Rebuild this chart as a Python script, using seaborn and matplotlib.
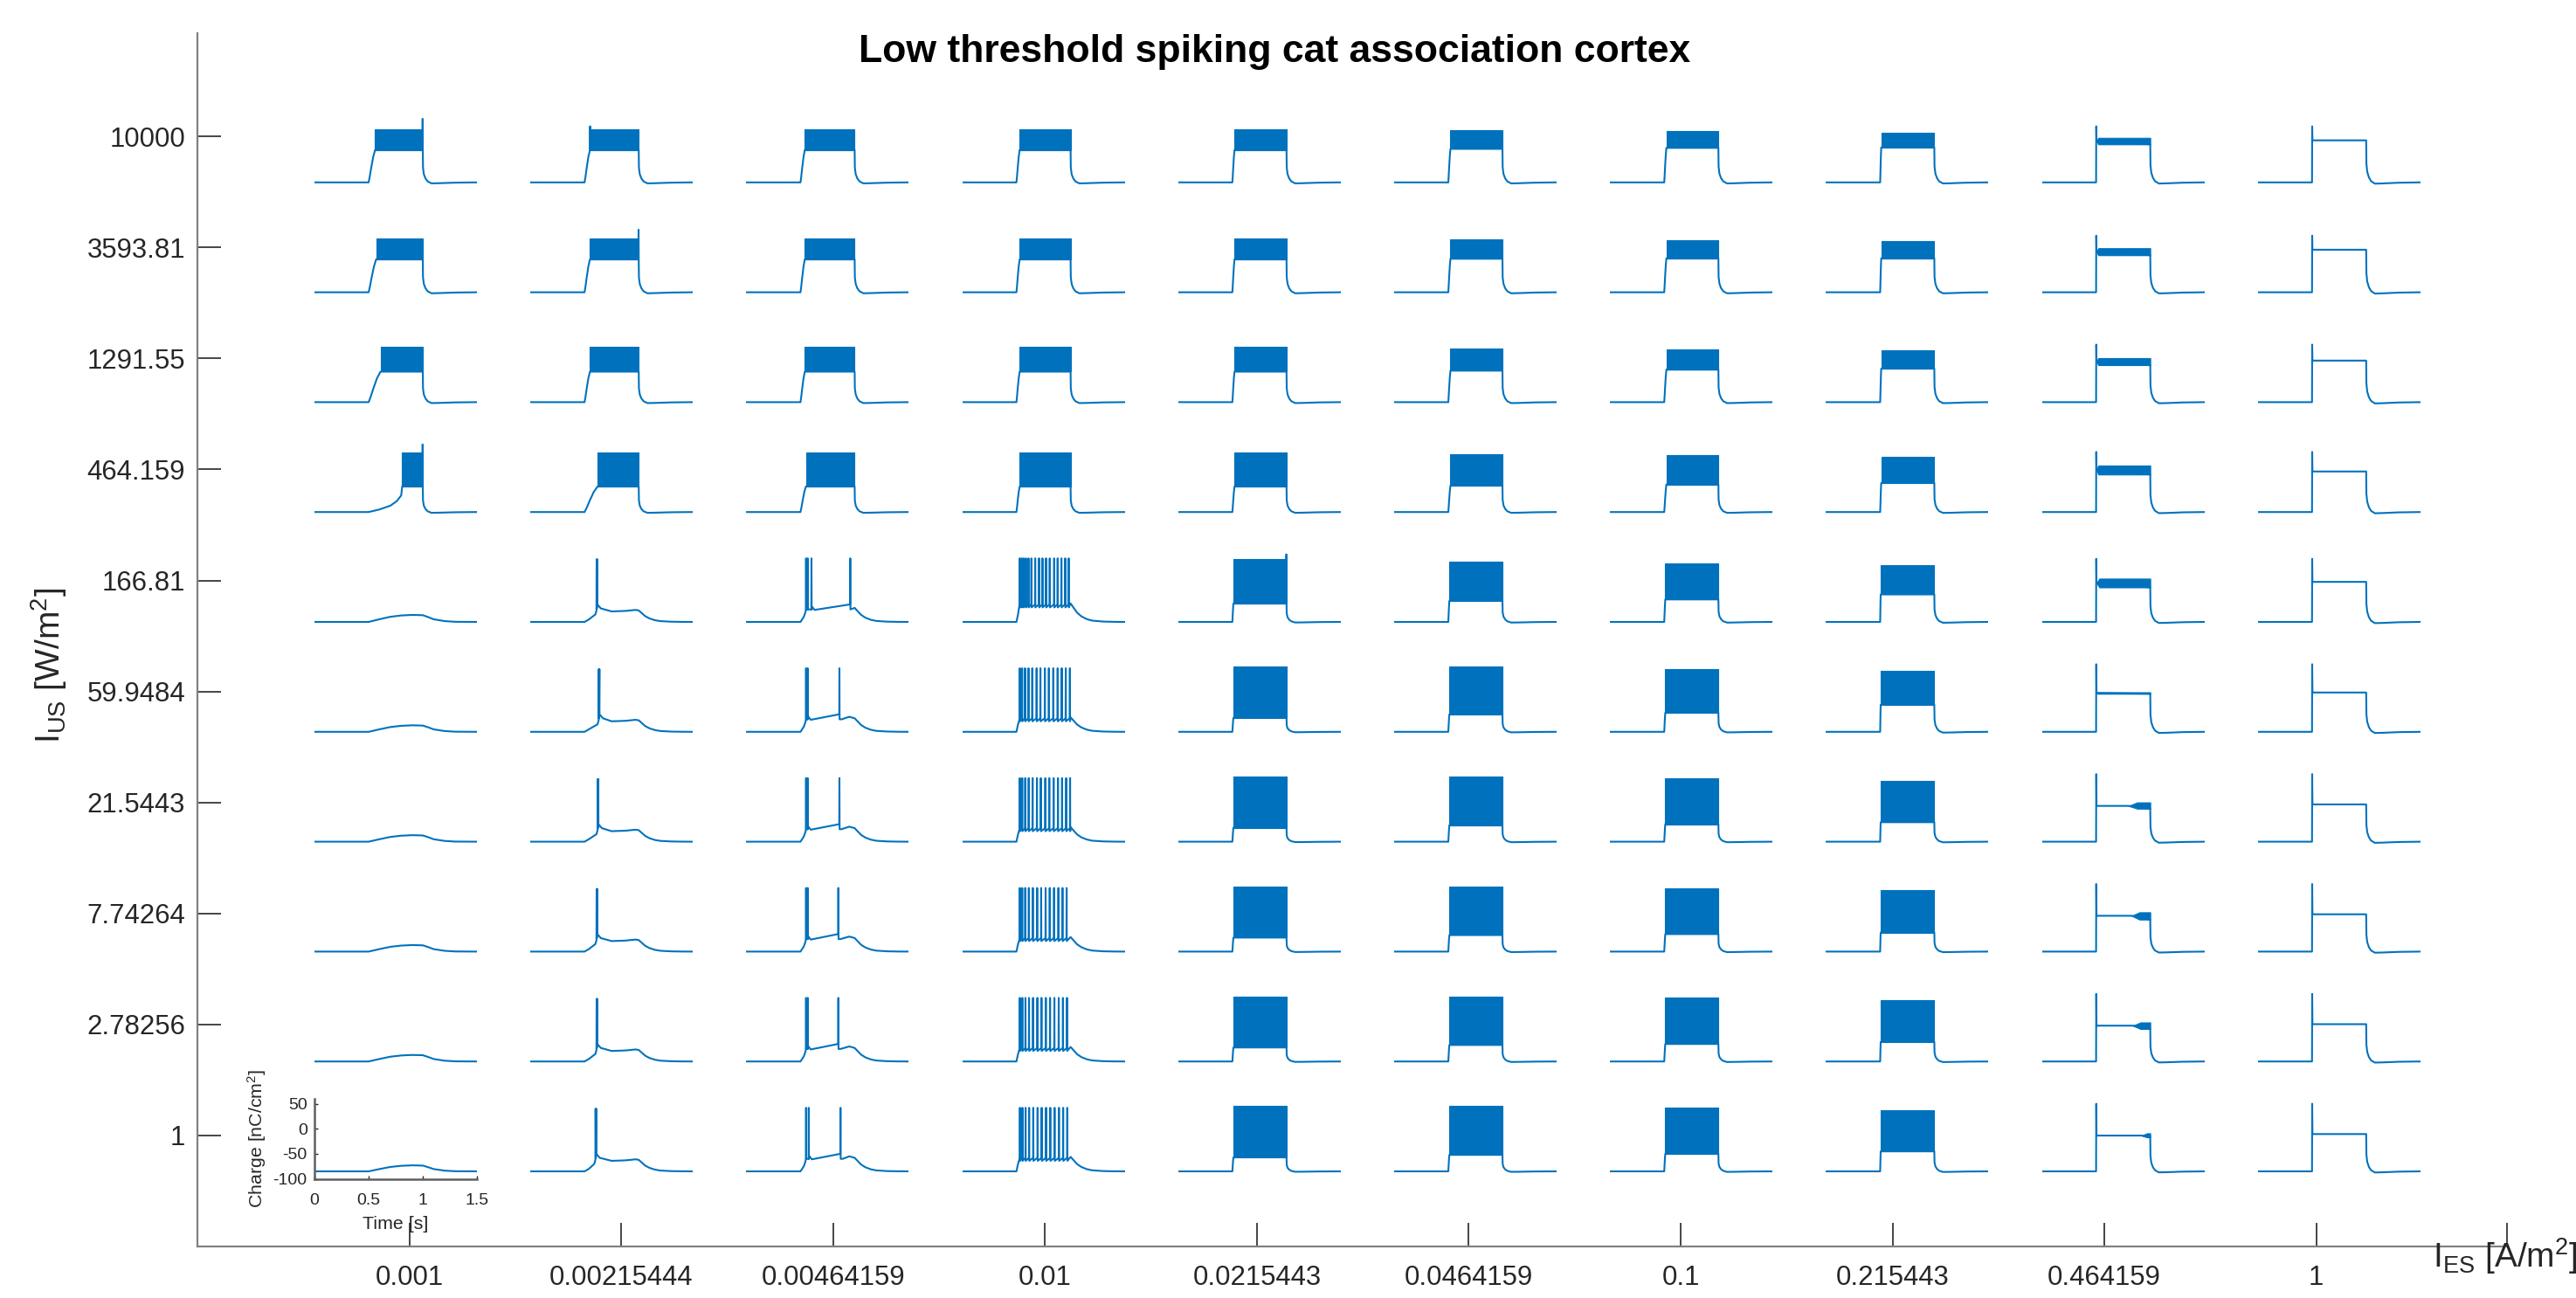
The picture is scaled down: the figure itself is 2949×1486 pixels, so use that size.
import numpy as np
import pandas as pd
import matplotlib
matplotlib.use("Agg")
import matplotlib.pyplot as plt
import seaborn as sns

sns.set_theme(style="white")
plt.rcParams['font.family'] = ['Liberation Sans', 'DejaVu Sans']
plt.rcParams['mathtext.fontset'] = 'custom'
plt.rcParams['mathtext.rm'] = 'Liberation Sans'
plt.rcParams['mathtext.it'] = 'Liberation Sans:italic'
plt.rcParams['mathtext.bf'] = 'Liberation Sans:bold'

# ---------------- data ----------------
TITLE = "Low threshold spiking cat association cortex"
I_ES_LABELS = ["0.001", "0.00215444", "0.00464159", "0.01", "0.0215443",
               "0.0464159", "0.1", "0.215443", "0.464159", "1"]
# rows from top (10000) to bottom (1)
I_US_LABELS = ["10000", "3593.81", "1291.55", "464.159", "166.81",
               "59.9484", "21.5443", "7.74264", "2.78256", "1"]

REST = -85.0          # resting charge [nC/cm2]
T_ON, T_OFF = 0.5, 1.0
nan = np.nan

KIND = [
    ["band", "band", "band", "band", "band", "band", "band", "band", "onset", "plateau"],
    ["band", "band", "band", "band", "band", "band", "band", "band", "onset", "plateau"],
    ["band", "band", "band", "band", "band", "band", "band", "band", "onset", "plateau"],
    ["slowband", "band", "band", "band", "band", "band", "band", "band", "onset", "plateau"],
    ["bump", "single", "burst", "train", "band", "band", "band", "band", "onset", "plateau"],
    ["bump", "single", "burst", "train", "band", "band", "band", "band", "onset", "plateau"],
    ["bump", "single", "burst", "train", "band", "band", "band", "band", "onset", "plateau"],
    ["bump", "single", "burst", "train", "band", "band", "band", "band", "onset", "plateau"],
    ["bump", "single", "burst", "train", "band", "band", "band", "band", "onset", "plateau"],
    ["bump", "single", "burst", "train", "band", "band", "band", "band", "onset", "plateau"],
]

BAND_HI = [
    [21, 21, 21, 21, 21, 19, 17, 14.5, 4, nan],
    [23, 23, 23, 23, 23, 21, 19, 17, 3, nan],
    [25, 25, 25, 25, 25, 23, 21, 18, 3, nan],
    [34, 34, 34, 34, 34, 31, 28, 25, 8, nan],
    [nan, nan, nan, nan, 40, 35, 32, 28, 1.5, nan],
    [nan, nan, nan, nan, 45, 45, 40, 36, -6, nan],
    [nan, nan, nan, nan, 45, 45, 42, 36, -6.5, nan],
    [nan, nan, nan, nan, 45, 45, 42, 37, -6.5, nan],
    [nan, nan, nan, nan, 45, 45, 42, 37, -7, nan],
    [nan, nan, nan, nan, 45, 45, 42, 37, -9, nan],
]
BAND_LO = [
    [-20, -20, -20, -20, -20, -18, -16, -15, -9, nan],
    [-19, -19, -19, -19, -19, -18, -17, -17, -11, nan],
    [-24, -24, -24, -24, -24, -22, -20, -18, -11, nan],
    [-34, -34, -34, -34, -34, -32, -30, -27, -10, nan],
    [nan, nan, nan, nan, -48, -43, -40, -30, -16, nan],
    [nan, nan, nan, nan, -57, -50, -47, -31, -9, nan],
    [nan, nan, nan, nan, -57, -52, -50, -46, -19, nan],
    [nan, nan, nan, nan, -57, -52, -50, -47, -21, nan],
    [nan, nan, nan, nan, -57, -52, -50, -46, -20, nan],
    [nan, nan, nan, nan, -57, -52, -50, -45, -17, nan],
]
BAND_T0 = [
    [0.56, 0.55, 0.54, 0.53, 0.52, 0.52, 0.52, 0.51, 0.505, nan],
    [0.57, 0.55, 0.54, 0.53, 0.52, 0.52, 0.52, 0.51, 0.505, nan],
    [0.61, 0.55, 0.54, 0.53, 0.52, 0.52, 0.52, 0.51, 0.505, nan],
    [0.81, 0.62, 0.55, 0.53, 0.52, 0.52, 0.52, 0.51, 0.505, nan],
    [nan, nan, nan, nan, 0.51, 0.51, 0.51, 0.505, 0.505, nan],
    [nan, nan, nan, nan, 0.51, 0.51, 0.51, 0.505, 0.505, nan],
    [nan, nan, nan, nan, 0.51, 0.51, 0.51, 0.505, 0.80, nan],
    [nan, nan, nan, nan, 0.51, 0.51, 0.51, 0.505, 0.83, nan],
    [nan, nan, nan, nan, 0.51, 0.51, 0.51, 0.505, 0.84, nan],
    [nan, nan, nan, nan, 0.51, 0.51, 0.51, 0.505, 0.92, nan],
]
# spikes poking out of a band at its start or end
EDGE_SPIKE = {(0, 0): ("end", 42), (0, 1): ("start", 27), (1, 1): ("end", 40),
              (3, 0): ("end", 50), (4, 4): ("end", 50)}

# column 0.464159: onset spike, then band that widens
ONSET_PEAK = [27, 28, 30, 35, 41, 50, 50, 50, 50, 50]
ONSET_LINE = [nan, nan, nan, nan, nan, nan, -13.5, -13.5, -13.5, -13.5]
ONSET_FULL_T = [0.52, 0.52, 0.52, 0.52, 0.53, 0.515, 0.88, 0.90, 0.91, 0.97]
# column 1: onset spike then a flat plateau
PLATEAU = [-1, 0, -2, -4, -5, -6.5, -10.5, -10.5, -10.5, -10.5]

# column 0.001, sub-threshold bump peak (rows 166.81 .. 1)
BUMP_PEAK = {4: -71, 5: -72, 6: -72, 7: -72, 8: -72, 9: -73}
BUMP_T = [0.0, 0.5, 0.6, 0.7, 0.8, 0.9, 1.0, 1.05, 1.1, 1.2, 1.3, 1.5]
BUMP_F = [0.0, 0.0, 0.38, 0.73, 0.92, 1.0, 0.96, 0.69, 0.38, 0.12, 0.02, 0.0]

# column 0.00215444: a single (doublet) spike
SINGLE_SPIKE_T = {4: 0.61, 5: 0.63, 6: 0.62, 7: 0.61, 8: 0.61, 9: 0.60}
SINGLE_AFTER_DT = [0.008, 0.04]
SINGLE_AFTER_Q = [-50, -58]
SINGLE_LATE_T = [0.75, 0.88, 0.97, 1.0]
SINGLE_LATE_Q = [-64, -63, -61, -62]

# column 0.00464159: early burst + one late spike (last entry)
BURST_SPIKES = {4: [0.55, 0.565, 0.60, 0.96], 5: [0.55, 0.565, 0.86],
                6: [0.55, 0.565, 0.86], 7: [0.55, 0.565, 0.85],
                8: [0.55, 0.565, 0.85], 9: [0.55, 0.575, 0.87]}

# column 0.01: regular spike trains
TRAIN_SPIKES = {
    4: [0.530, 0.546, 0.565, 0.586, 0.610, 0.637, 0.672, 0.707, 0.739,
        0.772, 0.806, 0.847, 0.879, 0.914, 0.949, 0.981],
    5: [0.530, 0.551, 0.578, 0.610, 0.645, 0.685, 0.720, 0.761, 0.798,
        0.839, 0.879, 0.917, 0.954, 0.992],
    6: [0.530, 0.552, 0.580, 0.612, 0.648, 0.688, 0.724, 0.765, 0.802,
        0.842, 0.882, 0.920, 0.958, 0.994],
    7: [0.530, 0.552, 0.580, 0.613, 0.650, 0.690, 0.727, 0.768, 0.806,
        0.846, 0.886, 0.924, 0.962],
    8: [0.530, 0.553, 0.582, 0.615, 0.652, 0.692, 0.730, 0.770, 0.809,
        0.849, 0.889, 0.928, 0.966],
    9: [0.531, 0.554, 0.583, 0.616, 0.654, 0.694, 0.732, 0.772, 0.811,
        0.851, 0.891, 0.930, 0.968],
}
TRAIN_TROUGH = {4: -50, 5: -58, 6: -58, 7: -58, 8: -58, 9: -58}
SPIKE_PEAK = 42

# shape templates (fractions of the step amplitude)
RISE_FT = [0.0, 0.15, 0.4, 0.7, 1.0]
RISE_FY = [0.0, 0.15, 0.45, 0.78, 1.0]
SLOW_RISE_FT = [0.0, 0.32, 0.65, 0.84, 0.97, 1.0]
SLOW_RISE_FY = [0.0, 0.10, 0.25, 0.43, 0.65, 1.0]
FAST_DECAY_T = [1.0, 1.002, 1.01, 1.025, 1.045, 1.08, 1.15, 1.3, 1.5]
FAST_DECAY_F = [1.0, 0.45, 0.25, 0.12, 0.03, -0.03, -0.025, -0.008, 0.0]
SLOW_DECAY_T = [1.0, 1.03, 1.06, 1.1, 1.15, 1.2, 1.3, 1.4, 1.5]
SLOW_DECAY_F = [1.0, 0.75, 0.5, 0.3, 0.15, 0.07, 0.02, 0.005, 0.0]

# ---------------- helpers ----------------
def decay(level, T, F):
    return [(t, REST + f * (level - REST)) for t, f in zip(T, F)]


def spike(ts, base, peak, drop=6.0):
    return [(ts, base), (ts + 0.0015, peak), (ts + 0.003, base - drop)]


def build(r, c):
    kind = KIND[r][c]
    pts = [(0.0, REST), (T_ON, REST)]
    fills = []
    if kind in ("band", "slowband"):
        hi, lo, t0 = BAND_HI[r][c], BAND_LO[r][c], BAND_T0[r][c]
        FT, FY = (SLOW_RISE_FT, SLOW_RISE_FY) if kind == "slowband" else (RISE_FT, RISE_FY)
        pts += [(T_ON + ft * (t0 - T_ON), REST + fy * (lo - REST)) for ft, fy in zip(FT, FY)][1:]
        edge = EDGE_SPIKE.get((r, c))
        if edge and edge[0] == "start":
            pts += [(t0 + 0.0015, edge[1]), (t0 + 0.003, lo)]
        if edge and edge[0] == "end":
            pts += [(0.997, lo), (0.9985, edge[1]), (1.0, lo)]
        pts += decay(lo, FAST_DECAY_T, FAST_DECAY_F)
        fills.append(([t0, T_OFF], [lo, lo], [hi, hi]))
    elif kind == "onset":
        hi, lo, tg = BAND_HI[r][c], BAND_LO[r][c], BAND_T0[r][c]
        line = ONSET_LINE[r] if not np.isnan(ONSET_LINE[r]) else 0.5 * (hi + lo)
        pts += [(0.5015, ONSET_PEAK[r]), (0.504, line), (tg, line), (T_OFF, lo)]
        pts += decay(lo, FAST_DECAY_T, FAST_DECAY_F)[1:]
        fills.append(([tg, ONSET_FULL_T[r], T_OFF], [line, lo, lo], [line, hi, hi]))
    elif kind == "plateau":
        p = PLATEAU[r]
        pts += [(0.5015, ONSET_PEAK[r]), (0.504, p), (T_OFF, p)]
        pts += decay(p, FAST_DECAY_T, FAST_DECAY_F)[1:]
    elif kind == "bump":
        pk = BUMP_PEAK[r]
        pts = [(t, REST + f * (pk - REST)) for t, f in zip(BUMP_T, BUMP_F)]
    elif kind == "single":
        ts = SINGLE_SPIKE_T[r]
        pts += [(0.54, -80), (ts - 0.01, -70)]
        pts += spike(ts, -62, 40, 0)[:2] + [(ts + 0.004, -58)] + spike(ts + 0.006, -58, 40, 0)[1:2]
        pts += [(ts + d, q) for d, q in zip(SINGLE_AFTER_DT, SINGLE_AFTER_Q)]
        pts += list(zip(SINGLE_LATE_T, SINGLE_LATE_Q))
        pts += decay(SINGLE_LATE_Q[-1], SLOW_DECAY_T, SLOW_DECAY_F)[1:]
    elif kind == "burst":
        sp = BURST_SPIKES[r]
        early, late = sp[:-1], sp[-1]
        pts += [(0.53, -75), (0.545, -66)]
        for ts in early:
            pts += spike(ts, -60, SPIKE_PEAK, 0)
        tb = early[-1]
        pts += [(tb + 0.008, -55), (tb + 0.03, -61)]
        pts += spike(late - 0.002, -50, SPIKE_PEAK, 10)
        if late < 0.93:
            pts += [(late + 0.02, -60), (0.95, -55), (1.0, -58)]
            pts += decay(-58, SLOW_DECAY_T, SLOW_DECAY_F)[1:]
        else:
            pts += [(1.0, -57)]
            pts += decay(-57, SLOW_DECAY_T, SLOW_DECAY_F)[1:]
    elif kind == "train":
        trough = TRAIN_TROUGH[r]
        pts += [(0.515, -70), (0.526, trough - 4)]
        for ts in TRAIN_SPIKES[r]:
            pts += spike(ts, trough, SPIKE_PEAK, 6)
        pts += [(1.0, trough + 2)]
        pts += decay(trough + 2, SLOW_DECAY_T, SLOW_DECAY_F)[1:]
    t = [p[0] for p in pts]
    q = [p[1] for p in pts]
    return t, q, fills


# ---------------- figure ----------------
W, H, DPI = 2949, 1486, 200
BLUE = "#0072BD"
DARK = "#262626"
fig = plt.figure(figsize=(W / DPI, H / DPI), dpi=DPI)
fig.patch.set_facecolor("white")

ax = fig.add_axes([226 / W, 1 - 1427 / H, (2870 - 226) / W, (1427 - 38) / H])
ax.set_facecolor("none")
ax.set_xlim(0, 10.9)
ax.set_ylim(0, 10.93)
ax.set_xticks(list(range(1, 11)) + [10.899])
ax.set_xticklabels(I_ES_LABELS + [""])
ax.set_yticks(list(range(1, 11)))
ax.set_yticklabels(I_US_LABELS[::-1])
for s in ("top", "right"):
    ax.spines[s].set_visible(False)
for s in ("left", "bottom"):
    ax.spines[s].set_color("#808080")
    ax.spines[s].set_linewidth(0.8)
ax.tick_params(axis="both", which="major", bottom=True, left=True,
               top=False, right=False, direction="in", length=9.7, width=0.6,
               color=DARK, labelcolor=DARK, labelsize=11.2)
ax.tick_params(axis="x", pad=7.5)
ax.tick_params(axis="y", pad=5)
ax.grid(False)

fig.text(1459 / W, 1 - 60 / H, TITLE, ha="center", va="center",
         fontsize=16, fontweight="bold", color="black")
fig.text(56 / W, 1 - 762 / H, r"I$_{\mathrm{US}}$ [W/m$^{2}$]", rotation=90,
         ha="center", va="center", fontsize=14, color=DARK)
fig.text(2785 / W, 1 - 1451 / H, r"I$_{\mathrm{ES}}$ [A/m$^{2}$]",
         ha="left", va="baseline", fontsize=14, color=DARK)

# inset grid geometry (pixels)
INSET_W, INSET_H = 186.0, 91.7
for r in range(10):
    for c in range(10):
        left = 360 + 247.2 * c
        bottom = 1349.6 - 125.8 * (9 - r)
        iax = fig.add_axes([left / W, 1 - bottom / H, INSET_W / W, INSET_H / H])
        iax.set_facecolor("none")
        t, q, fills = build(r, c)
        df = pd.DataFrame({"Time [s]": t, "Charge": q})
        sns.lineplot(data=df, x="Time [s]", y="Charge", ax=iax, sort=False,
                     estimator=None, color=BLUE, linewidth=0.75)
        for ft, flo, fhi in fills:
            iax.fill_between(ft, flo, fhi, color=BLUE, linewidth=0.4, edgecolor=BLUE)
        iax.set_xlim(0, 1.5)
        iax.set_ylim(-100, 60)
        if r == 9 and c == 0:
            for s in ("top", "right"):
                iax.spines[s].set_visible(False)
            for s in ("left", "bottom"):
                iax.spines[s].set_color("#606060")
                iax.spines[s].set_linewidth(0.9)
            iax.set_xticks([0, 0.5, 1, 1.5])
            iax.set_xticklabels(["0", "0.5", "1", "1.5"])
            iax.set_yticks([-100, -50, 0, 50])
            iax.set_yticklabels(["-100", "-50", "0", "50"])
            iax.tick_params(axis="both", bottom=True, left=True, top=False, right=False,
                            direction="in", length=1.5, width=0.5,
                            color=DARK, labelcolor=DARK, labelsize=7)
            iax.tick_params(axis="x", pad=6)
            iax.tick_params(axis="y", pad=3)
            iax.set_xlabel("Time [s]", fontsize=7.7, color=DARK, labelpad=3)
            iax.set_ylabel(r"Charge [nC/cm$^{2}$]", fontsize=7.7, color=DARK, labelpad=2)
            iax.grid(False)
        else:
            iax.axis("off")

fig.savefig("out.png", dpi=DPI, facecolor="white")
